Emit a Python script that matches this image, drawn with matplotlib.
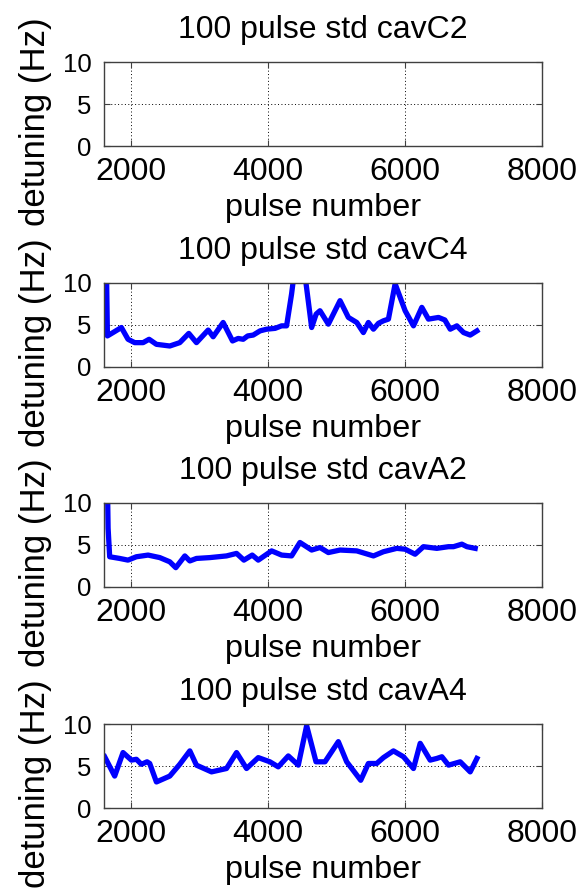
import matplotlib
matplotlib.use("Agg")
import matplotlib.pyplot as plt

# ── DATA ──────────────────────────────────────────────────────────────────────
titles = ["100 pulse std cavC2", "100 pulse std cavC4",
          "100 pulse std cavA2", "100 pulse std cavA4"]

# cavC2: no data drawn
c2_x = []
c2_y = []

c4_x = [1630, 1650, 1732, 1854, 1951, 2049, 2171, 2259, 2366, 2561, 2707,
        2839, 2951, 3122, 3195, 3341, 3478, 3560, 3634, 3700, 3780, 3880,
        3976, 4100, 4195, 4268, 4341, 4400, 4520, 4634, 4700, 4756, 4878,
        5049, 5171, 5293, 5390, 5463, 5537, 5610, 5683, 5756, 5854, 6000,
        6122, 6244, 6341, 6488, 6580, 6659, 6756, 6854, 6951, 7049]
c4_y = [15.0, 3.7, 4.1, 4.7, 3.3, 2.9, 2.9, 3.3, 2.7, 2.5, 2.9,
        4.0, 2.9, 4.4, 3.6, 5.3, 3.1, 3.4, 3.3, 3.7, 3.8, 4.3,
        4.5, 4.6, 4.9, 4.9, 8.7, 12.5, 12.0, 4.7, 6.3, 6.7, 5.1,
        7.9, 5.9, 5.3, 4.1, 5.3, 4.5, 5.2, 5.5, 5.7, 9.9, 6.7,
        4.9, 7.1, 5.7, 5.9, 5.6, 4.5, 4.9, 4.1, 3.8, 4.3]

a2_x = [1645, 1660, 1683, 1829, 1951, 2073, 2244, 2415, 2561, 2649, 2781,
        2854, 2951, 3146, 3390, 3537, 3644, 3766, 3854, 4049, 4195, 4341,
        4463, 4634, 4756, 4878, 5049, 5293, 5537, 5683, 5878, 6000, 6146,
        6268, 6463, 6634, 6707, 6829, 6902, 7024]
a2_y = [15.0, 7.0, 3.6, 3.4, 3.2, 3.6, 3.8, 3.5, 3.0, 2.3, 3.7,
        3.1, 3.4, 3.5, 3.7, 4.0, 3.2, 3.8, 3.2, 4.3, 3.8, 3.7,
        5.3, 4.4, 4.7, 4.1, 4.4, 4.3, 3.7, 4.2, 4.6, 4.5, 3.9,
        4.8, 4.6, 4.8, 4.8, 5.1, 4.8, 4.6]

a4_x = [1610, 1756, 1878, 2000, 2073, 2146, 2229, 2268, 2366, 2561, 2707,
        2854, 2951, 3171, 3390, 3537, 3683, 3854, 4024, 4146, 4293, 4439,
        4561, 4698, 4829, 5024, 5146, 5351, 5463, 5585, 5683, 5829, 5976,
        6122, 6220, 6366, 6463, 6537, 6634, 6805, 6951, 7049]
a4_y = [6.1, 3.8, 6.6, 5.7, 5.8, 5.2, 5.5, 5.3, 3.1, 3.8, 5.2,
        6.8, 5.1, 4.3, 4.7, 6.6, 4.7, 6.0, 5.5, 4.9, 6.2, 5.1,
        9.8, 5.5, 5.5, 7.9, 5.5, 3.3, 5.3, 5.3, 6.0, 6.8, 6.1,
        4.7, 7.7, 5.7, 5.9, 6.1, 5.1, 5.5, 4.3, 5.9]

series = [(c2_x, c2_y), (c4_x, c4_y), (a2_x, a2_y), (a4_x, a4_y)]

x_ticks = [2000, 4000, 6000, 8000]
y_ticks = [0, 5, 10]

# ── STYLE ─────────────────────────────────────────────────────────────────────
plt.rcParams["font.family"] = ["Liberation Sans", "DejaVu Sans"]
LINE_COL = "#0000ff"
SPINE_COL = "#404040"

W, H = 580, 890
fig = plt.figure(figsize=(W / 100, H / 100), dpi=100, facecolor="white")

left_px, right_px = 104, 542
tops_px = [62, 283, 503, 724]
ax_h_px = 84

for i, (xs, ys) in enumerate(series):
    top = tops_px[i]
    ax = fig.add_axes([left_px / W, 1 - (top + ax_h_px) / H,
                       (right_px - left_px) / W, ax_h_px / H])
    if xs:
        ax.plot(xs, ys, color=LINE_COL, lw=3.8, solid_joinstyle="round")
    ax.set_xlim(1600, 8000)
    ax.set_ylim(0, 10)
    ax.set_xticks(x_ticks)
    ax.set_yticks(y_ticks)
    ax.grid(True, color="black", lw=0.7, linestyle=(0, (1, 2.5)))
    for sp in ax.spines.values():
        sp.set_color(SPINE_COL)
        sp.set_linewidth(1.0)
    ax.tick_params(direction="in", top=True, right=True, length=4,
                   width=0.8, color=SPINE_COL)
    ax.tick_params(axis="x", labelsize=23, pad=8)
    ax.tick_params(axis="y", labelsize=18.5, pad=9)
    ax.set_title(titles[i], fontsize=23, pad=17)
    ax.set_xlabel("pulse number", fontsize=23.3, labelpad=4)
    ax.set_ylabel("detuning (Hz)", fontsize=25)
    ax.yaxis.set_label_coords(-0.119, 0.29)

fig.savefig("out.png", dpi=100, facecolor="white")
